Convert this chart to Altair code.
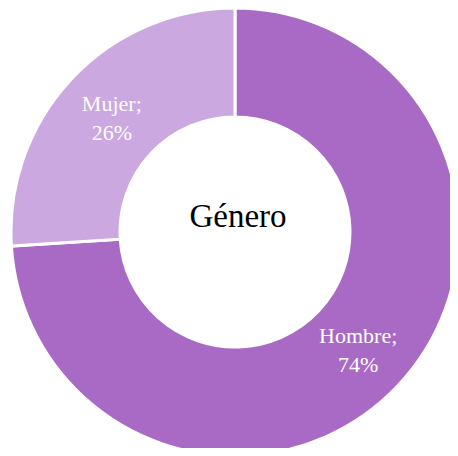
import altair as alt
import pandas as pd

genero = ["Hombre", "Mujer"]
porcentaje = [74, 26]
colores = ["#A96AC6", "#CCA8E0"]
titulo_centro = ["Género"]

df = pd.DataFrame({"genero": genero, "pct": porcentaje, "orden": list(range(len(genero)))})
df["etiqueta"] = df["genero"] + ";\n" + df["pct"].astype(str) + "%"

cx, cy = 227, 224

base = alt.Chart(df).encode(
    theta=alt.Theta("pct:Q", stack=True),
    order=alt.Order("orden:Q"),
)

arc = base.mark_arc(innerRadius=115, outerRadius=224, stroke="white", strokeWidth=3).encode(
    color=alt.Color("genero:N", scale=alt.Scale(domain=genero, range=colores), legend=None),
    x=alt.value(cx),
    y=alt.value(cy),
)

labels = base.mark_text(
    radius=169, font="Liberation Serif", fontSize=22, color="white",
    lineBreak="\n", lineHeight=29, align="center", baseline="middle", dy=-12,
).encode(
    text="etiqueta:N",
    x=alt.value(cx),
    y=alt.value(cy),
)

center = alt.Chart(pd.DataFrame({"t": titulo_centro})).mark_text(
    font="Liberation Serif", fontSize=33, color="black", align="center", baseline="alphabetic",
).encode(
    text="t:N",
    x=alt.value(cx + 3),
    y=alt.value(219),
)

chart = alt.layer(arc, labels, center).properties(
    width=442, height=440, padding=0, autosize=alt.AutoSizeParams(type="none"),
).configure_view(stroke=None)

chart.save("out.html", embed_options={"renderer": "svg", "actions": False})
